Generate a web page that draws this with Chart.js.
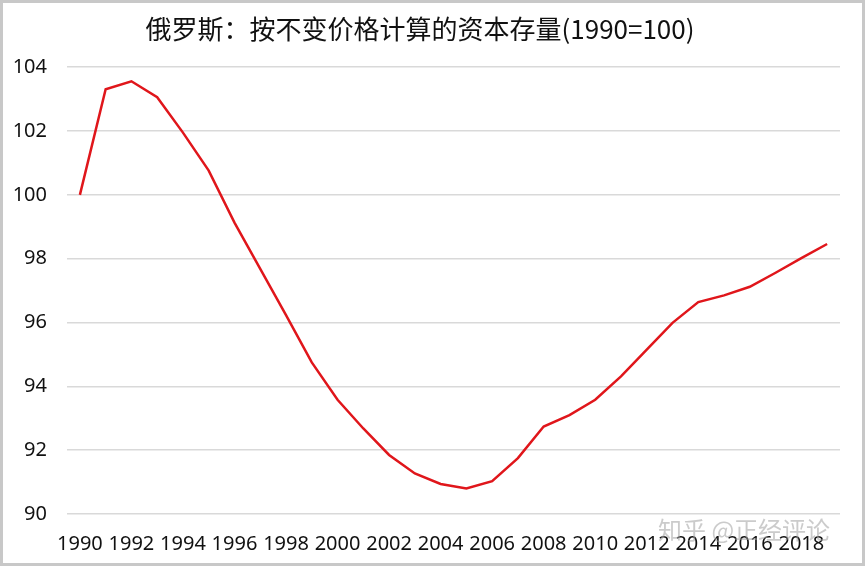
<!DOCTYPE html>
<html>
<head>
<meta charset="utf-8">
<script src="https://cdn.jsdelivr.net/npm/chart.js@4/dist/chart.umd.min.js"></script>
<style>
  html, body { margin: 0; padding: 0; background: #fff; }
  #wrap { width: 865px; height: 566px; }
</style>
</head>
<body>
<div id="wrap"><canvas id="chart" width="865" height="566"></canvas></div>
<script>
// years 1990..2019
const years = ['1990', '1991', '1992', '1993', '1994', '1995', '1996', '1997', '1998', '1999',
               '2000', '2001', '2002', '2003', '2004', '2005', '2006', '2007', '2008', '2009',
               '2010', '2011', '2012', '2013', '2014', '2015', '2016', '2017', '2018', '2019'];
// capital stock, 1990 = 100
const capitalStock = [100.0, 103.31, 103.56, 103.06, 101.95, 100.76, 99.13, 97.68, 96.23, 94.75,
                      93.58, 92.68, 91.85, 91.27, 90.94, 90.80, 91.03, 91.75, 92.74, 93.10,
                      93.58, 94.31, 95.15, 95.99, 96.64, 96.85, 97.12, 97.56, 98.02, 98.46];
const yMin = 90, yMax = 104, yStep = 2;

const frameAndMark = {
    id: 'frameAndMark',
    afterDraw(chart) {
        const c = chart.ctx;
        c.save();
        // watermark
        c.font = '24px "Noto Sans CJK SC"';
        c.fillStyle = 'rgba(160,160,160,0.55)';
        c.textAlign = 'left';
        c.textBaseline = 'middle';
        c.fillText('知乎 @正经评论', 658, 530);
        // outer frame
        c.strokeStyle = '#c8c8c8';
        c.lineWidth = 3;
        c.strokeRect(1.5, 1.5, chart.width - 3, chart.height - 3);
        c.restore();
    }
};

const ctx = document.getElementById('chart').getContext('2d');
new Chart(ctx, {
    type: 'line',
    data: {
        labels: years,
        datasets: [{
            data: capitalStock,
            borderColor: '#e0161b',
            borderWidth: 2.5,
            pointRadius: 0,
            tension: 0,
            fill: false
        }]
    },
    options: {
        responsive: false,
        animation: false,
        layout: { padding: { left: 0, right: 25, top: 0, bottom: 4 } },
        plugins: {
            legend: { display: false },
            tooltip: { enabled: false },
            title: {
                display: true,
                text: '俄罗斯：按不变价格计算的资本存量(1990=100)',
                color: '#111',
                font: { family: '"Noto Sans CJK SC"', size: 26, weight: 'normal' },
                padding: { top: 14, bottom: 22 }
            }
        },
        scales: {
            x: {
                offset: true,
                grid: { display: false },
                border: { display: false },
                ticks: {
                    autoSkip: false,
                    maxRotation: 0,
                    color: '#111',
                    font: { family: '"Noto Sans"', size: 20 },
                    padding: 10,
                    callback: function (v, i) { return i % 2 === 0 ? years[i] : ''; }
                },
                afterFit(scale) { scale.height = 48; }
            },
            y: {
                min: yMin,
                max: yMax,
                grid: { color: '#d9d9d9', lineWidth: 1.5, drawTicks: false },
                border: { display: false },
                ticks: {
                    stepSize: yStep,
                    color: '#111',
                    font: { family: '"Noto Sans"', size: 20 },
                    padding: 20
                },
                afterFit(scale) { scale.width = 67; }
            }
        }
    },
    plugins: [frameAndMark]
});
</script>
</body>
</html>
